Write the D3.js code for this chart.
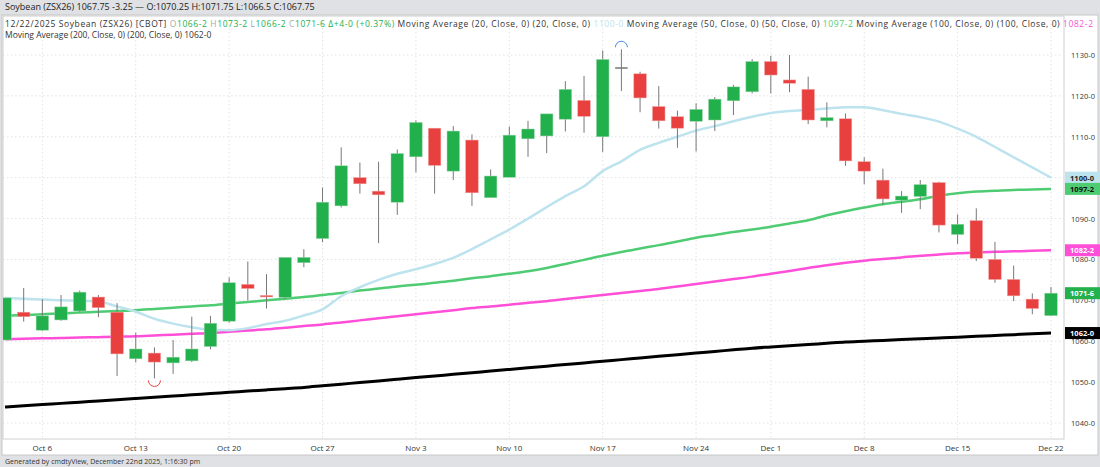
<!DOCTYPE html>
<html><head><meta charset="utf-8">
<script src="https://cdn.jsdelivr.net/npm/d3@7"></script>
<style>body{margin:0;background:#dfe1e4;font-family:"Open Sans",Roboto,sans-serif}</style>
</head><body><svg id="c" width="1100" height="467"></svg>
<script>
const dates=["Oct 2","Oct 3","Oct 6","Oct 7","Oct 8","Oct 9","Oct 10","Oct 13","Oct 14","Oct 15","Oct 16","Oct 17","Oct 20","Oct 21","Oct 22","Oct 23","Oct 24","Oct 27","Oct 28","Oct 29","Oct 30","Oct 31","Nov 3","Nov 4","Nov 5","Nov 6","Nov 7","Nov 10","Nov 11","Nov 12","Nov 13","Nov 14","Nov 17","Nov 18","Nov 19","Nov 20","Nov 21","Nov 24","Nov 25","Nov 26","Nov 28","Dec 1","Dec 2","Dec 3","Dec 4","Dec 5","Dec 8","Dec 9","Dec 10","Dec 11","Dec 12","Dec 15","Dec 16","Dec 17","Dec 18","Dec 19","Dec 22"];
const open=[1060.3,1067.1,1062.7,1065.2,1067.4,1070.8,1067.1,1055.7,1057.1,1054.7,1055.2,1058.7,1064.9,1073.9,1071.2,1070.7,1079.2,1085.1,1093.1,1100.0,1096.7,1094.0,1105.1,1112.1,1101.6,1109.2,1095.1,1100.1,1109.5,1110.2,1114.3,1118.9,1110.0,1127.0,1125.4,1117.4,1114.9,1113.8,1114.1,1118.8,1121.0,1128.4,1123.9,1121.6,1113.9,1114.4,1103.9,1099.4,1094.5,1095.4,1098.8,1086.1,1089.5,1080.0,1075.1,1070.3,1066.25];
const high=[1070.6,1073.0,1070.3,1071.3,1072.4,1071.3,1069.3,1062.1,1058.5,1060.3,1066.0,1066.2,1075.6,1079.5,1076.4,1080.5,1082.5,1097.6,1107.4,1103.7,1103.9,1106.9,1114.0,1112.1,1112.6,1110.6,1102.0,1112.5,1113.9,1115.6,1123.6,1124.9,1131.1,1131.4,1125.9,1122.4,1116.4,1118.2,1119.7,1122.7,1129.0,1129.8,1130.0,1124.7,1118.4,1115.7,1105.0,1102.2,1096.7,1099.4,1099.0,1091.0,1092.5,1084.3,1078.5,1071.7,1073.25];
const low=[1060.3,1064.8,1062.5,1065.0,1067.0,1065.9,1051.5,1054.8,1050.9,1052.0,1054.9,1058.0,1064.5,1070.0,1068.0,1070.3,1078.1,1084.2,1092.7,1096.1,1084.0,1090.9,1101.3,1096.1,1099.4,1093.1,1095.1,1100.1,1105.1,1106.0,1111.3,1111.0,1106.3,1121.2,1116.0,1112.0,1107.3,1106.4,1111.4,1115.3,1120.6,1120.6,1120.9,1113.1,1112.3,1102.9,1098.4,1093.4,1091.4,1092.3,1086.6,1083.8,1079.6,1074.3,1069.8,1066.6,1066.25];
const close=[1070.6,1066.0,1066.2,1068.4,1072.0,1068.2,1056.9,1058.1,1054.9,1056.1,1058.1,1064.4,1074.3,1072.9,1071.0,1080.5,1080.5,1094.0,1102.9,1098.5,1095.8,1105.9,1113.5,1103.0,1111.4,1096.3,1100.4,1110.4,1111.9,1115.6,1121.6,1115.0,1128.9,1127.0,1119.5,1113.9,1112.1,1116.7,1119.2,1122.2,1128.4,1125.1,1123.1,1114.1,1114.7,1104.1,1101.6,1094.8,1095.5,1098.3,1088.4,1088.6,1080.3,1075.1,1071.1,1068.0,1071.75];
const ma20=[1070.6,1070.4,1070.2,1070.0,1069.9,1069.7,1068.5,1067.2,1065.5,1064.3,1063.4,1062.8,1062.7,1063.2,1064.2,1065.0,1066.3,1067.8,1071.0,1073.2,1075.0,1076.5,1077.6,1078.9,1080.4,1082.5,1084.9,1087.3,1090.0,1092.8,1095.5,1097.9,1101.6,1104.0,1106.8,1108.5,1110.0,1111.5,1112.6,1113.8,1114.9,1115.8,1116.3,1116.6,1116.9,1117.2,1117.2,1116.5,1115.6,1114.8,1113.7,1112.0,1110.0,1107.5,1105.0,1102.5,1100.0];
const ma50=[1066.2,1066.4,1066.6,1066.8,1067.0,1067.2,1067.4,1067.6,1067.9,1068.2,1068.5,1068.8,1069.2,1069.6,1070.0,1070.4,1070.8,1071.3,1071.8,1072.4,1072.9,1073.4,1073.8,1074.3,1074.8,1075.4,1075.9,1076.5,1077.1,1077.9,1078.9,1079.9,1080.9,1081.8,1082.7,1083.5,1084.4,1085.3,1086.0,1086.7,1087.3,1088.0,1088.8,1089.6,1090.8,1091.8,1092.7,1093.5,1094.1,1094.7,1095.6,1096.2,1096.6,1096.8,1097.0,1097.1,1097.25];
const ma100=[1060.5,1060.6,1060.7,1060.8,1060.9,1061.0,1061.1,1061.2,1061.4,1061.6,1061.8,1062.0,1062.3,1062.6,1062.9,1063.3,1063.7,1064.1,1064.6,1065.1,1065.6,1066.1,1066.6,1067.1,1067.6,1068.1,1068.5,1068.9,1069.4,1069.8,1070.3,1070.8,1071.3,1071.8,1072.3,1072.8,1073.4,1074.0,1074.6,1075.2,1075.8,1076.5,1077.2,1077.9,1078.6,1079.2,1079.7,1080.1,1080.5,1080.9,1081.2,1081.5,1081.7,1081.9,1082.0,1082.1,1082.25];
const ma200=[1043.9,1044.2,1044.5,1044.8,1045.1,1045.4,1045.7,1046.0,1046.3,1046.6,1046.9,1047.2,1047.5,1047.8,1048.1,1048.4,1048.7,1049.1,1049.5,1049.9,1050.3,1050.7,1051.1,1051.5,1051.9,1052.3,1052.7,1053.1,1053.5,1053.9,1054.3,1054.7,1055.1,1055.5,1055.9,1056.3,1056.7,1057.1,1057.5,1057.9,1058.3,1058.6,1058.9,1059.2,1059.5,1059.8,1060.0,1060.2,1060.4,1060.6,1060.8,1061.0,1061.2,1061.4,1061.6,1061.8,1062.0];
const yTicks=[1040,1050,1060,1070,1080,1090,1100,1110,1120,1130];
const xTickLabels=["Oct 6","Oct 13","Oct 20","Oct 27","Nov 3","Nov 10","Nov 17","Nov 24","Dec 1","Dec 8","Dec 15","Dec 22"];
const badges=[{v:1100.0,t:"1100-0",bg:"#bde3ee",fg:"#222"},{v:1097.25,t:"1097-2",bg:"#4fcc73",fg:"#111"},{v:1082.25,t:"1082-2",bg:"#ff4fd8",fg:"#fff"},{v:1071.75,t:"1071-6",bg:"#22b14c",fg:"#fff"},{v:1062.0,t:"1062-0",bg:"#000",fg:"#fff"}];

const svg=d3.select("#c");
const GREEN="#21b04b",RED="#e8403f";
svg.append("rect").attr("x",2).attr("y",15).attr("width",1096).attr("height",440).attr("fill","#fff").attr("stroke","#c8c8c8");
svg.append("text").attr("x",5).attr("y",10).attr("font-size",9).attr("fill","#222").text("Soybean (ZSX26) 1067.75 -3.25 \u2014 O:1070.25 H:1071.75 L:1066.5 C:1067.75");
svg.append("text").attr("x",5).attr("y",464).attr("font-size",7).attr("fill","#333").text("Generated by cmdtyView, December 22nd 2025, 1:16:30 pm");

const L=3,R=1064,T=16,B=439;
const x=d3.scalePoint().domain(dates).range([5,1051]);
const y=d3.scaleLinear().domain([1040,1130]).range([423,55]);
svg.append("clipPath").attr("id","pc").append("rect").attr("x",L).attr("y",T).attr("width",R-L).attr("height",B-T);
const g=svg.append("g");
g.append("rect").attr("x",L).attr("y",T).attr("width",R-L).attr("height",B-T).attr("fill","none").attr("stroke","#d0d0d0");
g.selectAll(".hg").data(yTicks).join("line").attr("x1",L).attr("x2",R).attr("y1",d=>y(d)).attr("y2",d=>y(d)).attr("stroke","#e2e2e2").attr("stroke-dasharray","1.5,2.5");
g.selectAll(".vg").data(xTickLabels).join("line").attr("x1",d=>x(d)).attr("x2",d=>x(d)).attr("y1",T).attr("y2",B).attr("stroke","#e2e2e2").attr("stroke-dasharray","1.5,2.5");
g.selectAll(".xl").data(xTickLabels).join("text").attr("x",d=>x(d)).attr("y",451).attr("text-anchor","middle").attr("font-size",8).attr("fill","#333").text(d=>d);
g.selectAll(".yl").data(yTicks).join("text").attr("x",1083).attr("y",d=>y(d)+3).attr("text-anchor","middle").attr("font-size",7.5).attr("fill","#333").text(d=>d+"-0");

const leg=svg.append("text").attr("x",5).attr("y",27).attr("font-size",8.5).attr("fill","#333").attr("textLength",1088).attr("lengthAdjust","spacing");
[["12/22/2025  Soybean (ZSX26) [CBOT]  ","#333"],["O","#aaa"],["1066-2  ",GREEN],["H","#aaa"],["1073-2  ",GREEN],["L","#aaa"],["1066-2  ",GREEN],["C","#aaa"],["1071-6  ",GREEN],["\u0394+4-0 (+0.37%)  ",GREEN],["Moving Average (20, Close, 0)  (20, Close, 0)  ","#333"],["1100-0  ","#bde3ee"],["Moving Average (50, Close, 0)  (50, Close, 0)  ","#333"],["1097-2  ","#4fcc73"],["Moving Average (100, Close, 0)  (100, Close, 0)  ","#333"],["1082-2","#ff4fd8"]].forEach(([t,c])=>leg.append("tspan").attr("fill",c).text(t));
svg.append("text").attr("x",5).attr("y",38).attr("font-size",8.5).attr("fill","#333").text("Moving Average (200, Close, 0) (200, Close, 0) 1062-0");

const cl=g.append("g").attr("clip-path","url(#pc)");
const idx=d3.range(dates.length);
const line=arr=>d3.line().x(i=>x(dates[i])).y(i=>y(arr[i])).curve(d3.curveMonotoneX)(idx);
cl.append("path").attr("d",line(ma200)).attr("fill","none").attr("stroke","#000").attr("stroke-width",3);
cl.append("path").attr("d",line(ma100)).attr("fill","none").attr("stroke","#ff4fd8").attr("stroke-width",2.5);
cl.append("path").attr("d",line(ma50)).attr("fill","none").attr("stroke","#4fcc73").attr("stroke-width",2.5);
cl.append("path").attr("d",line(ma20)).attr("fill","none").attr("stroke","#bde3ee").attr("stroke-width",2.5);

const bw=12.5;
const cs=cl.selectAll(".c").data(idx).join("g");
cs.append("line").attr("x1",i=>x(dates[i])).attr("x2",i=>x(dates[i])).attr("y1",i=>y(high[i])).attr("y2",i=>y(low[i])).attr("stroke","#777").attr("stroke-width",1);
cs.append("rect").attr("x",i=>x(dates[i])-bw/2).attr("width",bw)
 .attr("y",i=>y(Math.max(open[i],close[i]))).attr("height",i=>Math.max(1.5,Math.abs(y(open[i])-y(close[i]))))
 .attr("fill",i=>close[i]>open[i]?GREEN:close[i]<open[i]?RED:"#777").attr("stroke",i=>close[i]>open[i]?"#9ad3a8":close[i]<open[i]?"#f0a0a0":"none").attr("stroke-width",0.5);
const hi=d3.maxIndex(high),lo=d3.minIndex(low);
cl.append("path").attr("d",`M${x(dates[hi])-6},${y(high[hi])-2} a6,6 0 0 1 12,0`).attr("fill","none").attr("stroke","#4a90e2").attr("stroke-width",1);
cl.append("path").attr("d",`M${x(dates[lo])-6},${y(low[lo])+2} a6,6 0 0 0 12,0`).attr("fill","none").attr("stroke","#e8403f").attr("stroke-width",1);

const bg=svg.selectAll(".b").data(badges).join("g");
bg.append("rect").attr("x",1065).attr("y",d=>y(d.v)-6).attr("width",35).attr("height",12).attr("fill",d=>d.bg);
bg.append("text").attr("x",1082).attr("y",d=>y(d.v)+3).attr("text-anchor","middle").attr("font-size",7.5).attr("font-weight","bold").attr("fill",d=>d.fg).text(d=>d.t);
</script></body></html>
